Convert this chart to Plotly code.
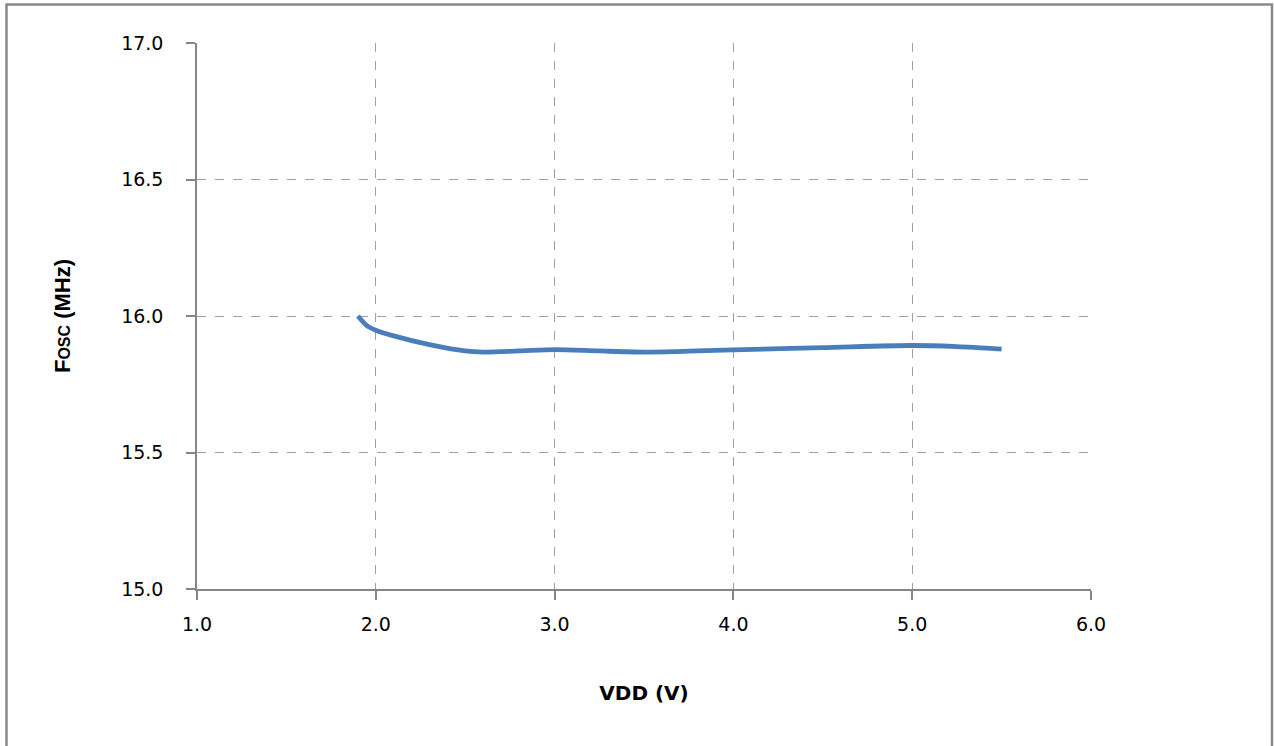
import plotly.graph_objects as go

# --- data ---
vdd = [1.9, 1.95, 2.0, 2.1, 2.3, 2.5, 2.6, 2.8, 3.0, 3.25, 3.5, 3.75, 4.0, 4.5, 5.0, 5.25, 5.5]
fosc = [16.0, 15.965, 15.948, 15.927, 15.895, 15.872, 15.868, 15.872, 15.877, 15.872,
        15.868, 15.871, 15.876, 15.884, 15.892, 15.888, 15.879]

x_ticks = [1.0, 2.0, 3.0, 4.0, 5.0, 6.0]
y_ticks = [15.0, 15.5, 16.0, 16.5, 17.0]

W, H = 1274, 746
L, R, T, B = 197, 183, 43, 157
pw, ph = W - L - R, H - T - B


def px_x(p):
    return (p - L) / pw


def px_y(p):
    return 1 - (p - T) / ph


fig = go.Figure()
fig.add_trace(go.Scatter(
    x=vdd, y=fosc, mode="lines",
    line=dict(color="#4a7ebb", width=4.8, shape="spline", smoothing=0.8),
    showlegend=False, hoverinfo="x+y",
))

axis_common = dict(
    showline=True, linecolor="#868686", linewidth=1.5,
    showgrid=True, gridcolor="#a0a0a0", griddash="dash", gridwidth=1,
    ticks="outside", ticklen=9, tickcolor="#868686", tickwidth=1.5,
    tickfont=dict(family="DejaVu Sans", size=19, color="#000000"),
    zeroline=False, mirror=False,
)

fig.update_xaxes(
    range=[1.0, 6.0], tickvals=x_ticks, ticktext=[f"{v:.1f}" for v in x_ticks],
    title=dict(text="<b>VDD (V)</b>", standoff=52,
               font=dict(family="DejaVu Sans", size=20, color="#000000")),
    ticklabelstandoff=8, **axis_common,
)
fig.update_yaxes(
    range=[15.0, 17.0], tickvals=y_ticks, ticktext=[f"{v:.1f}" for v in y_ticks],
    title=dict(text="<b>F<span style='font-size:16px'>OSC</span> (MHz)</b>", standoff=44,
               font=dict(family="Liberation Sans", size=22, color="#000000")),
    ticklabelstandoff=19, **axis_common,
)

# outer chart frame
fig.add_shape(type="rect", xref="paper", yref="paper",
              x0=px_x(6.5), x1=px_x(1272), y0=px_y(4.5), y1=px_y(770),
              line=dict(color="#898989", width=2.5), fillcolor="rgba(0,0,0,0)", layer="above")

fig.update_layout(
    width=W, height=H,
    margin=dict(l=L, r=R, t=T, b=B, autoexpand=False),
    plot_bgcolor="white", paper_bgcolor="white",
)

fig.write_html("out.html", config={"displayModeBar": False},
               post_script="document.body.style.margin='0';")
